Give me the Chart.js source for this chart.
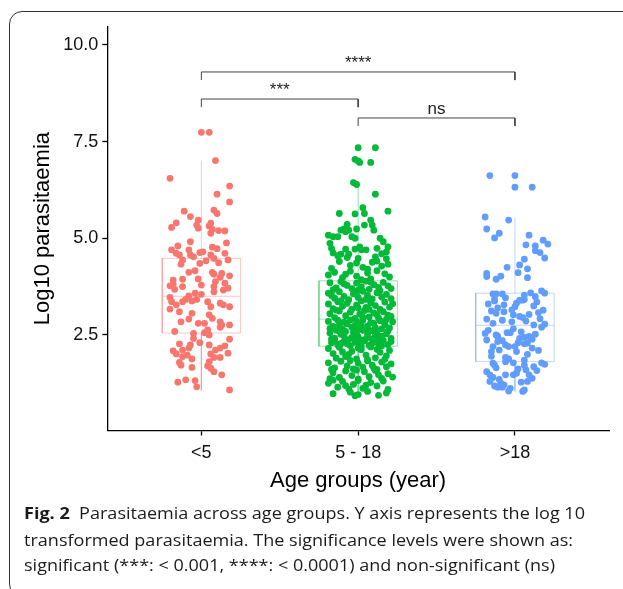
<!DOCTYPE html>
<html>
<head>
<meta charset="utf-8">
<script src="https://cdn.jsdelivr.net/npm/chart.js@4.4.1/dist/chart.umd.min.js"></script>
<style>
  body { margin: 0; background: #fff; }
  #wrap { position: relative; width: 623px; height: 589px; overflow: hidden; background: #fff; }
  #frame { position: absolute; left: 9px; top: 11px; width: 700px; height: 584px; border: 1.3px solid #333; border-radius: 13px; }
  #c { position: absolute; left: 0; top: 0; }
  .cap { position: absolute; left: 24px; white-space: nowrap; font-family: "Open Sans", sans-serif; font-size: 16.8px; line-height: 20px; color: #1d1a1b; transform-origin: 0 0; }
  .cap b { font-weight: 700; }
</style>
</head>
<body>
<div id="wrap">
  <div id="frame"></div>
  <canvas id="c" width="623" height="589"></canvas>
  <div class="cap" id="cap1" style="top:503.4px" data-w="561"><b>Fig. 2</b>&nbsp; Parasitaemia across age groups. Y axis represents the log 10</div>
  <div class="cap" id="cap2" style="top:530.1px" data-w="549">transformed parasitaemia. The significance levels were shown as:</div>
  <div class="cap" id="cap3" style="top:555.1px" data-w="531">significant (***: &lt; 0.001, ****: &lt; 0.0001) and non-significant (ns)</div>
</div>
<script>
const groupLabels = ["<5", "5 - 18", ">18"];
const groupColors = ["#F8766D", "#00BA38", "#619CFF"];
const boxColors = ["rgba(248,118,109,0.4)", "rgba(0,186,56,0.4)", "rgba(97,156,255,0.4)"];
const yTicks = [2.5, 5.0, 7.5, 10.0];

// [jitter offset from group centre, log10 parasitaemia]
const under5 = [
  [0.00,7.74],[0.05,7.74],[0.09,7.01],[-0.20,6.55],[0.18,6.35],[0.10,6.14],[0.18,5.94],[-0.11,5.70],[0.08,5.73],[0.10,5.64],
  [-0.07,5.56],[-0.02,5.47],[-0.16,5.40],[-0.19,5.28],[-0.03,5.34],[-0.02,5.26],[0.06,5.39],[0.05,5.32],[0.07,5.23],[0.06,5.13],
  [0.11,5.20],[0.15,5.19],[-0.07,4.91],[-0.15,4.80],[0.16,4.88],[-0.19,4.70],[-0.08,4.70],[0.07,4.77],[0.10,4.73],
  [-0.01,4.63],[0.01,4.65],[-0.16,4.61],[-0.14,4.57],[-0.07,4.57],[-0.05,4.52],[0.06,4.57],[0.08,4.48],[0.15,4.61],[0.17,4.44],
  [-0.12,4.44],[-0.01,4.35],[0.03,4.42],[0.11,4.37],[-0.13,4.33],[-0.08,4.12],[-0.04,4.16],[0.07,4.12],[0.08,4.07],[0.13,4.09],
  [0.12,3.99],[0.18,4.03],[-0.02,3.95],[-0.12,3.94],[-0.18,3.92],[-0.20,3.77],[-0.18,3.81],[-0.17,3.68],[-0.12,3.75],[0.00,3.79],
  [0.09,3.88],[0.08,3.75],[0.08,3.62],[0.15,3.84],[0.17,3.71],[0.14,3.66],[-0.04,3.58],[0.00,3.55],[-0.08,3.51],[-0.10,3.42],
  [-0.12,3.36],[-0.20,3.47],[-0.19,3.36],[-0.16,3.28],[-0.20,3.17],[-0.06,3.38],[-0.03,3.42],[0.04,3.36],[0.06,3.23],[0.12,3.32],
  [0.14,3.28],[0.18,3.23],[-0.14,3.10],[-0.06,3.06],[0.05,3.02],[-0.08,2.91],[-0.13,2.84],[-0.02,2.80],[0.02,2.80],[0.07,2.93],
  [0.12,2.84],[0.13,2.76],[0.12,2.70],[0.18,2.76],[0.04,2.63],[-0.17,2.59],[-0.05,2.54],[-0.05,2.41],[0.02,2.56],[0.05,2.50],
  [0.18,2.39],[-0.01,2.30],[-0.07,2.24],[-0.08,2.16],[-0.12,2.11],[-0.14,2.27],[-0.18,2.09],[-0.16,2.01],[0.05,2.24],[0.09,2.11],
  [0.12,2.16],[0.15,2.22],[0.17,2.03],[0.06,2.01],[0.08,1.92],[0.12,1.92],[-0.12,1.94],[-0.09,1.98],[-0.06,1.88],[-0.14,1.79],
  [-0.13,1.72],[0.05,1.81],[0.04,1.70],[0.06,1.64],[-0.06,1.66],[0.08,1.55],[0.13,1.47],[-0.15,1.28],[-0.10,1.34],[-0.04,1.32],
  [-0.03,1.16],[0.18,1.08]
];

const age5to18 = [
  [0.00,7.34],[0.11,7.34],[-0.02,7.04],[0.00,7.00],[0.01,6.96],[0.08,6.96],[-0.03,6.44],[-0.01,6.39],[0.11,6.14],[-0.12,5.64],
  [-0.02,5.63],[0.03,5.79],[0.04,5.64],[0.19,5.70],[0.08,5.47],[0.09,5.34],[0.04,5.34],[0.10,5.21],[-0.07,5.36],[-0.09,5.24],
  [-0.11,5.21],[-0.08,5.17],[-0.06,5.21],[-0.01,5.24],[-0.19,5.08],[-0.16,5.04],[-0.13,5.04],[-0.18,4.87],[-0.04,5.04],[-0.02,5.00],
  [0.14,5.00],[0.16,4.91],[0.19,4.78],[0.18,4.65],[-0.17,4.74],[-0.08,4.72],[-0.06,4.59],[-0.02,4.72],[0.01,4.78],[0.02,4.70],
  [0.05,4.70],[0.12,4.74],[-0.11,4.59],[0.11,4.52],[-0.16,4.62],[0.15,4.60],[-0.07,4.50],[0.00,4.48],[0.18,4.47],[-0.13,4.55],
  [-0.12,4.40],[-0.05,4.30],[-0.01,4.36],[0.03,4.25],[0.09,4.38],[0.15,4.28],[0.19,4.33],[-0.17,4.22],[0.06,4.20],[0.12,4.41],
  [-0.19,4.05],[-0.15,4.12],[-0.10,3.98],[-0.05,4.15],[-0.01,4.02],[0.06,4.10],[0.08,3.95],[0.17,4.08],[0.20,4.00],[0.12,4.16],
  [-0.08,4.07],[0.02,3.93],
  [-0.18,3.85],[-0.14,3.72],[-0.11,3.88],[-0.07,3.78],[-0.04,3.70],[-0.01,3.84],[0.02,3.75],[0.05,3.89],[0.07,3.68],[0.10,3.80],
  [0.13,3.73],[0.16,3.86],[0.19,3.77],[-0.16,3.67],[-0.09,3.82],[0.00,3.66],[0.08,3.87],[0.21,3.70],
  [-0.19,3.58],[-0.15,3.45],[-0.12,3.62],[-0.09,3.50],[-0.06,3.41],[-0.03,3.56],[0.00,3.47],[0.03,3.63],[0.06,3.52],[0.09,3.43],
  [0.12,3.59],[0.15,3.48],[0.18,3.55],[0.21,3.44],[-0.17,3.52],[-0.01,3.60],[0.05,3.42],[0.14,3.64],
  [-0.19,3.30],[-0.16,3.18],[-0.13,3.36],[-0.10,3.24],[-0.07,3.32],[-0.04,3.17],[-0.01,3.28],[0.02,3.38],[0.05,3.21],[0.08,3.33],
  [0.11,3.26],[0.14,3.16],[0.17,3.35],[0.20,3.22],[-0.11,3.39],[0.00,3.20],[0.07,3.16],[0.22,3.31],
  [-0.18,3.05],[-0.15,2.95],[-0.12,3.12],[-0.08,3.00],[-0.05,3.09],[-0.02,2.93],[0.01,3.04],[0.04,3.13],[0.07,2.97],[0.10,3.07],
  [0.13,2.94],[0.16,3.10],[0.19,3.01],[-0.14,3.14],[0.03,2.96],[0.12,3.02],[0.21,2.98],
  [-0.19,2.85],[-0.16,2.72],[-0.13,2.88],[-0.10,2.66],[-0.07,2.79],[-0.04,2.70],[-0.01,2.86],[0.02,2.75],[0.05,2.64],[0.08,2.82],
  [0.11,2.69],[0.14,2.87],[0.17,2.77],[0.20,2.68],[0.22,2.84],[-0.18,2.67],[-0.12,2.76],[-0.05,2.89],[0.00,2.65],[0.06,2.73],
  [0.10,2.80],[0.15,2.66],[-0.09,2.83],[0.03,2.88],[0.18,2.90],[-0.02,2.74],
  [-0.18,2.55],[-0.15,2.42],[-0.12,2.60],[-0.09,2.48],[-0.06,2.38],[-0.03,2.57],[0.00,2.45],[0.03,2.62],[0.06,2.51],[0.09,2.40],
  [0.12,2.58],[0.15,2.47],[0.18,2.53],[0.21,2.41],[-0.17,2.39],[-0.11,2.52],[-0.04,2.44],[0.02,2.37],[0.08,2.61],[0.13,2.43],
  [0.19,2.60],[-0.08,2.59],[-0.01,2.53],[0.05,2.40],[0.11,2.50],[-0.14,2.62],
  [-0.17,2.30],[-0.13,2.24],[-0.09,2.34],[-0.05,2.22],[-0.02,2.31],[0.01,2.26],[0.04,2.35],[0.07,2.23],[0.10,2.32],[0.13,2.27],
  [0.16,2.36],[0.19,2.25],[-0.15,2.35],[-0.07,2.27],[0.02,2.21],[0.09,2.29],[0.15,2.22],[-0.11,2.28],[0.21,2.33],
  [-0.19,2.15],[-0.16,2.02],[-0.12,2.18],[-0.08,1.94],[-0.04,2.08],[-0.01,1.88],[0.02,2.12],[0.05,1.98],[0.08,2.19],[0.11,1.91],
  [0.14,2.05],[0.17,1.87],[0.20,2.10],[-0.14,1.90],[-0.06,2.00],[0.00,2.16],[0.06,1.86],[0.12,2.13],[-0.10,2.06],[0.18,1.96],
  [-0.19,1.78],[-0.15,1.65],[-0.11,1.82],[-0.07,1.70],[-0.03,1.62],[0.00,1.77],[0.03,1.67],[0.06,1.83],[0.09,1.72],[0.12,1.61],
  [0.15,1.80],[0.18,1.68],[0.21,1.75],[-0.17,1.61],[-0.05,1.84],[0.10,1.64],
  [-0.16,1.52],[-0.12,1.40],[-0.08,1.57],[-0.04,1.45],[0.00,1.36],[0.04,1.55],[0.07,1.42],[0.11,1.58],[0.15,1.38],[0.19,1.50],
  [-0.18,1.37],[-0.01,1.59],[0.13,1.47],[0.22,1.41],
  [-0.19,1.25],[-0.13,1.15],[-0.10,1.30],[-0.06,1.10],[-0.03,1.22],[0.00,1.32],[0.03,1.12],[0.08,1.27],[0.12,1.18],[0.16,1.31],
  [0.19,1.09],[-0.16,1.33],[0.05,1.20],[-0.08,1.19],
  [-0.16,0.98],[-0.05,1.02],[-0.02,0.93],[0.00,0.96],[0.06,1.04],[0.13,0.94],[0.18,1.00]
];

const over18 = [
  [-0.16,6.62],[0.00,6.62],[0.00,6.32],[0.11,6.32],[-0.19,5.55],[-0.04,5.47],[-0.18,5.24],[-0.10,5.13],[-0.13,5.01],[0.09,5.08],
  [0.07,4.83],[0.18,4.95],[0.21,4.85],[0.13,4.80],[0.13,4.68],[0.16,4.63],[0.19,4.49],[0.06,4.46],
  [0.03,4.31],[0.08,4.21],[-0.05,4.25],[0.02,4.11],[-0.18,4.09],[-0.18,4.01],[-0.12,3.94],[-0.09,4.02],[0.08,3.98],
  [-0.14,3.56],[-0.12,3.56],[-0.08,3.56],[-0.13,3.42],[-0.06,3.46],[-0.07,3.28],[-0.15,3.12],[-0.12,3.06],[-0.07,3.10],[-0.18,2.91],
  [-0.14,2.80],[0.00,3.23],[0.01,3.32],[0.03,3.40],[0.05,3.40],[0.06,3.53],[0.10,3.59],[0.13,3.49],[0.17,3.64],[0.19,3.58],
  [0.06,3.42],[-0.01,3.02],[0.05,2.95],[0.09,3.03],[0.12,3.25],[0.15,3.08],[-0.02,2.84],[0.12,2.76],[0.19,2.78],
  [-0.17,3.30],[-0.11,3.20],[-0.02,3.15],[0.03,2.98],[0.14,3.35],[0.18,3.14],[-0.08,2.88],[0.07,2.86],[0.16,2.92],[-0.13,3.38],
  [-0.19,2.54],[-0.18,2.37],[-0.11,2.47],[-0.11,2.33],[-0.05,2.56],[-0.03,2.56],[-0.06,2.24],[-0.04,2.20],[0.00,2.20],[0.01,2.07],
  [0.03,2.41],[0.06,2.44],[0.09,2.46],[0.11,2.39],[0.08,2.29],[0.06,2.27],[0.11,2.16],[-0.14,2.20],[-0.15,2.07],[-0.10,2.11],
  [-0.17,2.62],[-0.12,2.50],[-0.01,2.66],[0.04,2.58],[0.13,2.52],[0.17,2.70],[-0.08,2.35],[0.02,2.30],[0.15,2.10],[-0.15,1.95],
  [0.08,2.00],[-0.04,1.88],
  [-0.14,1.77],[-0.13,1.72],[-0.06,1.92],[-0.06,1.81],[-0.01,1.78],[0.06,1.85],[0.06,1.72],[0.17,1.78],[0.19,1.74],
  [-0.12,1.65],[-0.18,1.55],[0.02,1.62],[0.12,1.68],[0.14,1.58],
  [-0.16,1.47],[-0.14,1.40],[-0.06,1.47],[-0.01,1.47],[0.01,1.51],[0.07,1.60],[0.09,1.47],[0.11,1.38],
  [0.08,1.30],[-0.10,1.35],[0.04,1.28],[-0.03,1.12],[-0.16,1.30],
  [-0.13,1.18],[-0.09,1.25],[-0.07,1.21],[-0.11,1.15],[-0.08,1.15],[-0.04,1.05],[0.05,1.04],[0.06,1.08]
];

// [lower whisker, Q1, median, Q3, upper whisker] per age group
const boxStats = [
  [1.06, 2.55, 3.50, 4.48, 7.01],
  [0.95, 2.21, 2.91, 3.90, 6.39],
  [1.04, 1.81, 2.75, 3.58, 5.54]
];

const bracketFrom = [1, 1, 2];
const bracketTo = [3, 2, 3];
const bracketLevel = [9.30, 8.60, 8.11];
const bracketLabels = ["****", "***", "ns"];
const tipDrop = 0.21;
const boxHalf = 0.25;

const FONT = "'Liberation Sans', Arial, Helvetica, sans-serif";
Chart.defaults.font.family = FONT;

const groups = [under5, age5to18, over18];

const pointSets = groups.map((g, i) => ({
  type: "scatter",
  data: g.map((p) => ({ x: i + 1 + p[0], y: p[1] })),
  backgroundColor: groupColors[i],
  borderWidth: 0,
  pointRadius: 3.4,
  pointBorderWidth: 0,
  order: 0,
}));

const gap = { x: 0, y: null };

const boxSets = boxStats.map((s, i) => {
  let c = i + 1;
  let l = c - boxHalf;
  let r = c + boxHalf;
  let [lo, q1, med, q3, hi] = s;
  return {
    type: "line",
    data: [
      { x: l, y: q1 }, { x: r, y: q1 }, { x: r, y: q3 }, { x: l, y: q3 }, { x: l, y: q1 }, gap,
      { x: l, y: med }, { x: r, y: med }, gap,
      { x: c, y: q3 }, { x: c, y: hi }, gap,
      { x: c, y: q1 }, { x: c, y: lo },
    ],
    borderColor: boxColors[i],
    borderWidth: 1,
    pointRadius: 0,
    fill: false,
    spanGaps: false,
    order: 1,
  };
});

let bracketData = [];
bracketFrom.forEach((f, i) => {
  let t = bracketTo[i];
  let lv = bracketLevel[i];
  bracketData.push({ x: f, y: lv - tipDrop }, { x: f, y: lv }, { x: t, y: lv }, { x: t, y: lv - tipDrop }, gap);
});

const bracketSet = {
  type: "line",
  data: bracketData,
  borderColor: "#444",
  borderWidth: 1,
  pointRadius: 0,
  fill: false,
  spanGaps: false,
  order: 2,
};

const bracketText = {
  id: "bracketText",
  afterDatasetsDraw(chart) {
    const { ctx, scales } = chart;
    ctx.save();
    ctx.fillStyle = "#222";
    ctx.font = "17px " + FONT;
    ctx.textAlign = "center";
    ctx.textBaseline = "alphabetic";
    bracketLabels.forEach((t, i) => {
      let cx = scales.x.getPixelForValue((bracketFrom[i] + bracketTo[i]) / 2);
      let cy = scales.y.getPixelForValue(bracketLevel[i]) - 4;
      ctx.fillText(t, cx, cy);
    });
    ctx.restore();
  },
};

const ctx = document.getElementById("c");

new Chart(ctx, {
  data: { datasets: [...pointSets, ...boxSets, bracketSet] },
  options: {
    responsive: false,
    animation: false,
    events: [],
    layout: { padding: { top: 26.7, right: 14, bottom: 88.5, left: 0 } },
    plugins: { legend: { display: false }, tooltip: { enabled: false } },
    scales: {
      x: {
        type: "linear",
        min: 0.4,
        max: 3.6,
        afterFit: (s) => { s.height = 70; },
        afterBuildTicks: (s) => { s.ticks = [1, 2, 3].map((v) => ({ value: v })); },
        ticks: {
          autoSkip: false,
          maxRotation: 0,
          padding: 7,
          color: "#111",
          font: { size: 18 },
          callback: (v) => groupLabels[v - 1],
        },
        grid: { drawOnChartArea: false, tickLength: 5, tickColor: "#000", tickWidth: 1.3 },
        border: { display: true, color: "#000", width: 1.3 },
        title: {
          display: true,
          text: "Age groups (year)",
          color: "#000",
          font: { size: 22 },
          padding: { top: 0, bottom: 6 },
        },
      },
      y: {
        type: "linear",
        min: 0.03,
        max: 10.47,
        afterFit: (s) => { s.width = 107.3; },
        afterBuildTicks: (s) => { s.ticks = yTicks.map((v) => ({ value: v })); },
        ticks: {
          padding: 4,
          color: "#111",
          font: { size: 18 },
          callback: (v) => v.toFixed(1),
        },
        grid: { drawOnChartArea: false, tickLength: 5, tickColor: "#000", tickWidth: 1.3 },
        border: { display: true, color: "#000", width: 1.3 },
        title: {
          display: true,
          text: "Log10 parasitaemia",
          color: "#000",
          font: { size: 22 },
          padding: { top: 30, bottom: 0 },
        },
      },
    },
  },
  plugins: [bracketText],
});

// squeeze each caption line to the width it has in the figure
document.querySelectorAll(".cap").forEach((el) => {
  let target = parseFloat(el.dataset.w);
  let w = el.getBoundingClientRect().width;
  el.style.transform = "scaleX(" + (target / w) + ")";
});
</script>
</body>
</html>
